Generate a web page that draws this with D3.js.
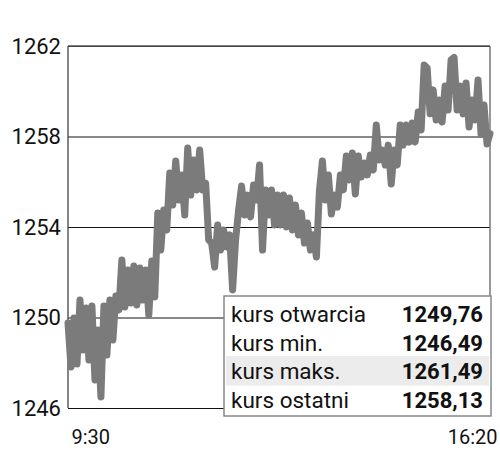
<!DOCTYPE html>
<html>
<head>
<meta charset="utf-8">
<script src="https://cdn.jsdelivr.net/npm/d3@7"></script>
<style>
  body { margin: 0; background: #fff; }
  text { font-family: Roboto, "Noto Sans", sans-serif; }
</style>
</head>
<body>
<div id="chart"></div>
<script>
// session span in minutes from 9:30 to 16:20
const startLabel = '9:30';
const endLabel = '16:20';
const sessionMinutes = 410;

const yTicks = [1246, 1250, 1254, 1258, 1262];

// index values, evenly spaced through the session
const prices = [
    1249.76, 1247.81, 1249.98, 1247.94, 1250.77, 1248.56, 1250.42, 1248.12, 1250.51, 1247.24,
    1249.45, 1246.49, 1250.51, 1248.34, 1250.77, 1249.01, 1250.95, 1250.33, 1252.54, 1250.46,
    1252.10, 1250.64, 1252.28, 1250.55, 1252.19, 1250.77, 1252.10, 1250.11, 1252.50, 1250.91,
    1254.62, 1252.98, 1254.75, 1253.87, 1256.39, 1254.97, 1256.92, 1255.19, 1256.30, 1254.53,
    1257.49, 1255.41, 1256.96, 1255.64, 1257.40, 1255.64, 1255.94, 1253.43, 1253.29, 1252.23,
    1254.09, 1252.98, 1253.87, 1253.12, 1253.65, 1251.22, 1253.43, 1254.75, 1255.81, 1254.53,
    1255.41, 1254.44, 1255.86, 1255.19, 1256.74, 1252.98, 1255.64, 1254.53, 1255.64, 1254.09,
    1255.41, 1254.09, 1255.41, 1254.00, 1255.28, 1253.87, 1254.97, 1253.65, 1254.62, 1253.29,
    1254.18, 1252.98, 1253.65, 1252.67, 1255.59, 1256.92, 1255.19, 1256.30, 1254.57, 1255.41,
    1254.88, 1256.30, 1255.64, 1257.14, 1256.08, 1257.27, 1255.46, 1257.14, 1256.21, 1256.83,
    1256.30, 1257.18, 1256.52, 1258.51, 1256.96, 1257.40, 1256.74, 1257.62, 1255.90, 1257.40,
    1256.74, 1258.51, 1257.62, 1258.51, 1257.75, 1258.60, 1257.76, 1259.08, 1258.29, 1261.16,
    1261.03, 1259.00, 1260.06, 1258.73, 1259.61, 1258.64, 1260.23, 1259.17, 1261.38, 1261.49,
    1259.17, 1260.23, 1259.00, 1260.36, 1258.42, 1259.61, 1258.73, 1260.50, 1258.11, 1259.39,
    1257.67, 1258.13
];

const statLabels = ['kurs otwarcia', 'kurs min.', 'kurs maks.', 'kurs ostatni'];
const statValues = ['1249,76', '1246,49', '1261,49', '1258,13'];

const width = 500, height = 465;
const margin = { top: 46, right: 10, bottom: 57, left: 68 };
const innerW = width - margin.left - margin.right;
const innerH = height - margin.top - margin.bottom;

const svg = d3.select('#chart').append('svg')
    .attr('width', width)
    .attr('height', height);

const g = svg.append('g')
    .attr('transform', `translate(${margin.left},${margin.top})`);

const x = d3.scaleLinear().domain([0, sessionMinutes]).range([0, innerW]);
const y = d3.scaleLinear().domain([1246, 1262]).range([innerH, 0]);

// horizontal grid + y labels
const yAxis = g.append('g')
    .call(d3.axisLeft(y).tickValues(yTicks).tickSize(-innerW).tickPadding(7).tickFormat(d3.format('d')));
yAxis.select('.domain').remove();
yAxis.selectAll('.tick line').attr('stroke', '#111').attr('stroke-width', 1);
yAxis.selectAll('.tick text')
    .attr('fill', '#111')
    .style('font-size', '22px');

// frame
g.append('line').attr('x1', 0).attr('x2', 0).attr('y1', 0).attr('y2', innerH)
    .attr('stroke', '#333').attr('stroke-width', 1.2);
g.append('line').attr('x1', innerW).attr('x2', innerW).attr('y1', 0).attr('y2', innerH)
    .attr('stroke', '#777').attr('stroke-width', 1.5);
g.append('line').attr('x1', 0).attr('x2', innerW).attr('y1', 0).attr('y2', 0)
    .attr('stroke', '#555').attr('stroke-width', 1.5);

// x labels
const xAxis = g.append('g')
    .attr('transform', `translate(0,${innerH})`)
    .call(d3.axisBottom(x).tickValues([0, sessionMinutes]).tickSize(0).tickPadding(22)
        .tickFormat(d => d === 0 ? startLabel : endLabel));
xAxis.select('.domain').remove();
xAxis.selectAll('.tick text')
    .attr('fill', '#111')
    .style('font-size', '20px')
    .attr('text-anchor', d => d === 0 ? 'start' : 'end')
    .attr('dx', d => d === 0 ? 3 : 7);

// price line
const step = sessionMinutes / (prices.length - 1);
const line = d3.line()
    .x((d, i) => x(i * step))
    .y(d => y(d));

g.append('path')
    .datum(prices)
    .attr('d', line)
    .attr('fill', 'none')
    .attr('stroke', '#7b7b7b')
    .attr('stroke-width', 7)
    .attr('stroke-linejoin', 'round')
    .attr('stroke-linecap', 'round');

// stats box
const box = { x: 224, y: 296, w: 267, rowH: 28.5 };
const boxG = svg.append('g').attr('transform', `translate(${box.x},${box.y})`);

boxG.append('rect')
    .attr('width', box.w)
    .attr('height', box.rowH * statLabels.length + 6)
    .attr('fill', '#fff')
    .attr('stroke', '#888')
    .attr('stroke-width', 1.5);

const rows = boxG.selectAll('.row')
    .data(statLabels)
    .join('g')
    .attr('class', 'row')
    .attr('transform', (d, i) => `translate(0,${3 + i * box.rowH})`);

rows.filter((d, i) => i === 2)
    .append('rect')
    .attr('x', 2)
    .attr('width', box.w - 4)
    .attr('height', box.rowH + 1)
    .attr('fill', '#ececec');

rows.append('text')
    .attr('x', 7)
    .attr('y', 23)
    .attr('fill', '#111')
    .style('font-size', '22.5px')
    .text(d => d);

rows.append('text')
    .attr('x', box.w - 8)
    .attr('y', 23)
    .attr('text-anchor', 'end')
    .attr('fill', '#111')
    .style('font-size', '22px')
    .style('font-weight', 'bold')
    .text((d, i) => statValues[i]);
</script>
</body>
</html>
